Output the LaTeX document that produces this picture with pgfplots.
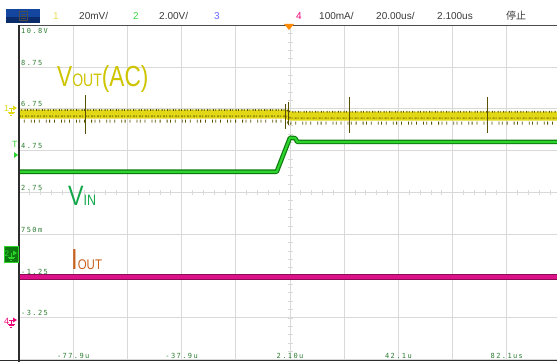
\documentclass[border=0pt]{standalone}
\usepackage{pgfplots}
\pgfplotsset{compat=1.18}
\usepackage{fontspec}
\setmainfont{Liberation Sans}
\newfontfamily\tickfont[LetterSpace=20]{DejaVu Sans Mono}
\newfontfamily\cjk{Noto Sans CJK SC}
\definecolor{gridc}{HTML}{D9D9D9}
\definecolor{tickc}{HTML}{2E7D32}
\definecolor{ychan}{HTML}{E2D816}
\definecolor{ydark}{HTML}{5A5200}
\definecolor{ylabel}{HTML}{CEC400}
\definecolor{gtrace}{HTML}{2ED42E}
\definecolor{gdark}{HTML}{0E7A0E}
\definecolor{glabel}{HTML}{12A84A}
\definecolor{mtrace}{HTML}{DD1188}
\definecolor{mdark}{HTML}{8A0C55}
\definecolor{olabel}{HTML}{C8601E}
\definecolor{hdrtext}{HTML}{3A3A3A}
\definecolor{btnblue}{HTML}{1446A0}
\definecolor{btndark}{HTML}{0A2C6C}
\newcommand\gnd[3]{%
  \draw[#3, line width=0.8pt] (#1,#2) -- ++(0,-4);
  \draw[#3, line width=0.8pt] (#1-3.5,#2-4) -- ++(7,0);
  \draw[#3, line width=0.8pt] (#1-2.5,#2-5.6) -- ++(5,0);
  \draw[#3, line width=0.8pt] (#1-1.2,#2-7.2) -- ++(2.4,0);}
\begin{document}
\begin{tikzpicture}[x=1pt,y=1pt]
\path[use as bounding box] (0,0) rectangle (557,362);
\fill[white] (0,0) rectangle (557,362);
% centre crosshair minor ticks
\foreach \i in {0,...,50} \draw[gridc, line width=0.8pt] ({19+\i*10.84},{362-192.5-2.5}) -- ++(0,5);
\foreach \j in {0,...,40} \draw[gridc, line width=0.8pt] ({290-2.5},{2.3+\j*8.36}) -- ++(5,0);
\begin{axis}[
  at={(19pt,2.3pt)}, scale only axis,
  width=542pt, height=334.4pt,
  xmin=-97.9, xmax=102.1, ymin=-5.25, ymax=10.75,
  axis line style={draw=none},
  major tick length=0pt,
  grid=major, grid style={draw=gridc, line width=0.9pt},
  xtick={-97.9,-77.9,-57.9,-37.9,-17.9,2.1,22.1,42.1,62.1,82.1},
  xticklabels={,-77.9u,,-37.9u,,2.10u,,42.1u,,82.1us},
  ytick={-5.25,-3.25,-1.25,0.75,2.75,4.75,6.75,8.75},
  yticklabels={,-3.25,-1.25,750m,2.75,4.75,6.75,8.75},
  extra y ticks={10.75}, extra y tick labels={10.8V},
  extra y tick style={yticklabel style={anchor=north west, yshift=-5pt}},
  xticklabel style={anchor=base, yshift=1.2pt, inner sep=0pt, text=tickc, font=\tickfont\fontsize{7}{8}\selectfont},
  yticklabel style={anchor=base west, xshift=2pt, yshift=2pt, inner sep=0pt, text=tickc, font=\tickfont\fontsize{7}{8}\selectfont},
]
% CH2 Vin
\addplot[gdark, line width=4.6pt, line join=round] coordinates {(-97.9,3.745) (-2.8,3.745) (2.1,5.37) (4.0,5.35) (4.8,5.17) (102.1,5.17)};
\addplot[gtrace, line width=2.2pt, line join=round] coordinates {(-97.9,3.745) (-2.8,3.745) (2.1,5.37) (4.0,5.35) (4.8,5.17) (102.1,5.17)};
% CH1 Vout AC
\addplot[ychan, line width=9pt] coordinates {(-97.9,6.5) (0.3,6.5) (1.5,6.44) (2.5,6.41) (102.1,6.41)};
\addplot[ydark!55!ychan, line width=1.6pt, dash pattern=on 2pt off 1pt on 1pt off 2pt] coordinates {(-97.9,6.40) (0.3,6.40) (2.5,6.31) (102.1,6.31)};
\addplot[ydark, line width=1.8pt, dash pattern=on 1pt off 1.5pt on 0.7pt off 2.5pt] coordinates {(-97.9,6.70) (0.3,6.70) (2.5,6.61) (102.1,6.61)};
\addplot[ydark, line width=3pt, dash pattern=on 0.8pt off 4pt on 0.8pt off 6.2pt on 0.8pt off 2.5pt] coordinates {(-97.9,6.16) (0.3,6.16) (2.5,6.07) (102.1,6.07)};
\addplot[ydark, line width=1pt] coordinates {(-73.3,7.4) (-73.3,5.55)};
\addplot[ydark, line width=1pt] coordinates {(24.2,7.3) (24.2,5.6)};
\addplot[ydark, line width=1pt] coordinates {(74.8,7.3) (74.8,5.6)};
\addplot[ydark, line width=1pt] coordinates {(0.3,7.0) (0.3,5.8)};
\addplot[ydark, line width=1pt] coordinates {(1.6,7.1) (1.6,6.0)};
% CH4 Iout
\addplot[mdark, line width=5.5pt] coordinates {(-97.9,-1.3) (102.1,-1.3)};
\addplot[mtrace, line width=3.5pt] coordinates {(-97.9,-1.3) (102.1,-1.3)};
\end{axis}
% frame lines
\draw[gray!60!black, line width=1pt] (19,336.7) -- (557,336.7);
\draw[gray!35!black, line width=1.2pt] (19,0) -- (19,337);
\draw[gray!35!black, line width=1.2pt] (0,1.2) -- (557,1.2);
% trigger marker
\fill[orange!90!yellow] (284,338) -- (294,338) -- (289,332) -- cycle;
% trace labels
\node[anchor=base west, inner sep=0pt, text=ylabel] at (57,275)
  {\scalebox{0.78}[1]{\fontsize{29}{29}\selectfont V\fontsize{18}{18}\selectfont OUT\fontsize{29}{29}\selectfont(AC)}};
\node[anchor=base west, inner sep=0pt, text=glabel] at (68,157)
  {\scalebox{0.83}[1]{\fontsize{28}{28}\selectfont V\fontsize{15}{15}\selectfont IN}};
\node[anchor=base west, inner sep=0pt, text=olabel] at (71,93)
  {\scalebox{0.82}[1]{\fontsize{29}{29}\selectfont I\fontsize{14}{14}\selectfont OUT}};
% header
\fill[btnblue] (5.7,339) rectangle (40,353);
\fill[btndark] (5.7,339) rectangle (40,345);
\draw[black!70, line width=0.6pt] (19,341.5) rectangle (27,350.5);
\draw[black!70, line width=0.5pt] (20.5,344) -- (25.5,344) (20.5,346) -- (25.5,346) (20.5,348) -- (25.5,348);
\begin{scope}[every node/.style={anchor=base west, inner sep=0pt, font=\fontsize{10}{10}\selectfont}]
\node[text=yellow!70!white!90!black] at (53,342.5) {1};
\node[text=hdrtext] at (79,342.5) {20mV/};
\node[text=green!70!white!85!black] at (133,342.5) {2};
\node[text=hdrtext] at (159,342.5) {2.00V/};
\node[text=blue!60!white] at (214,342.5) {3};
\node[text=magenta!80!red] at (296,342.5) {4};
\node[text=hdrtext] at (319,342.5) {100mA/};
\node[text=hdrtext] at (376,342.5) {20.00us/};
\node[text=hdrtext] at (437,342.5) {2.100us};
\node[text=hdrtext] at (506,342.5) {\cjk 停止};
\end{scope}
% left channel markers
\node[anchor=base west, inner sep=0pt, text=ychan, font=\fontsize{9}{9}\selectfont] at (4,250) {1};
\draw[ychan, line width=0.8pt] (9,254) -- (14,254);
\fill[ychan] (13,256.5) -- (17,254) -- (13,251.5) -- cycle;
\gnd{11}{254}{ychan}
\node[anchor=base west, inner sep=0pt, text=gtrace, font=\fontsize{9}{9}\selectfont] at (12,214) {T};
\fill[gtrace] (14,210) -- (18,207) -- (14,204) -- cycle;
\fill[gdark] (4,100) rectangle (18,116);
\draw[gtrace, line width=0.6pt] (4,100) rectangle (18,116);
\node[anchor=base west, inner sep=0pt, text=gtrace, font=\fontsize{8}{8}\selectfont] at (4.5,106) {2};
\fill[gtrace] (13,111.5) -- (17,109) -- (13,106.5) -- cycle;
\gnd{11}{109}{gtrace}
\node[anchor=base west, inner sep=0pt, text=magenta!80!red, font=\fontsize{9}{9}\selectfont] at (4,38) {4};
\draw[magenta!80!red, line width=0.8pt] (9,42) -- (14,42);
\fill[magenta!80!red] (13,44.5) -- (17,42) -- (13,39.5) -- cycle;
\gnd{11}{42}{magenta!80!red}
\end{tikzpicture}
\end{document}
